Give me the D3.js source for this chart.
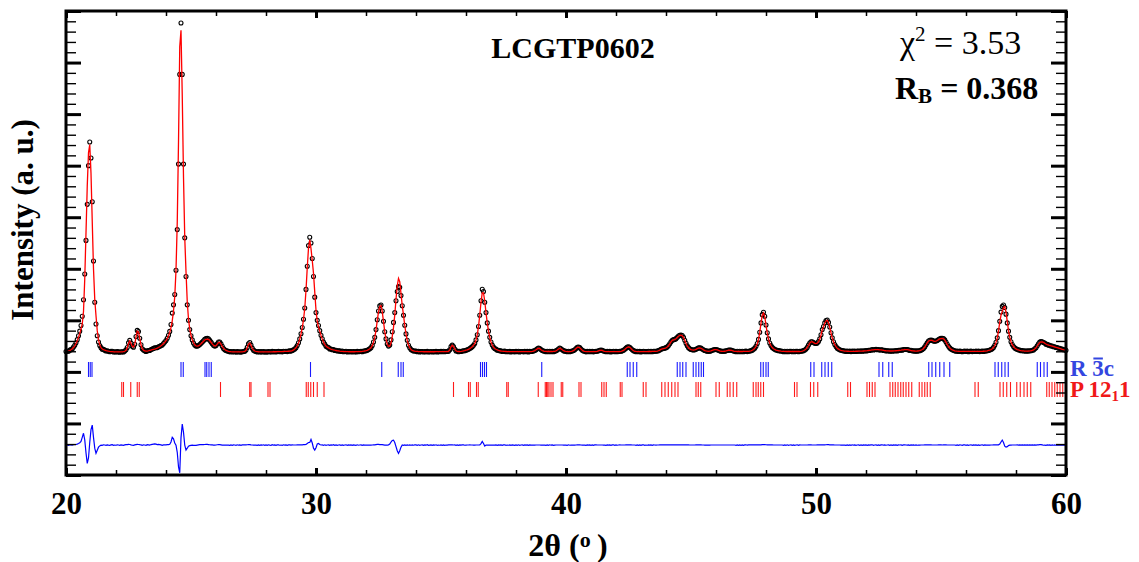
<!DOCTYPE html>
<html>
<head>
<meta charset="utf-8">
<script src="https://cdn.jsdelivr.net/npm/d3@7.9.0/dist/d3.min.js"></script>
<style>
  html, body { margin: 0; padding: 0; background: #fff; }
  svg text { font-family: "Liberation Serif", "Times New Roman", serif; }
</style>
</head>
<body>
<svg id="chart" width="1139" height="562"></svg>
<script>
// 2theta grid of the scan: start and step (degrees)
const tthStart = 20;
const tthStep = 0.05;

// observed counts, one row per degree (20.00 ... 60.00)
const yObs = [
  395, 400, 400, 422, 431, 446, 482, 517, 565, 625, 700, 790, 900, 1080, 1400, 1900, 2550, 3250, 4000, 4459,
  4150, 3300, 2150, 1350, 930, 700, 580, 510, 470, 440, 436, 422, 406, 411, 401, 393, 397, 399, 386, 391,
  385, 393, 389, 381, 392, 389, 387, 403, 428, 473, 565, 612, 560, 495, 478, 535, 685, 805, 782, 653,
  525, 447, 426, 408, 397, 411, 413, 416, 434, 445, 456, 468, 469, 471, 486, 497, 510, 521, 552, 580,
  610, 653, 710, 785, 920, 1140, 1300, 1500, 1970, 2760, 4030, 5770, 6767, 5770, 4030, 2600, 1850, 1300, 1000, 820,
  700, 620, 560, 520, 500, 500, 510, 530, 555, 580, 605, 630, 645, 650, 640, 615, 580, 545, 515, 500,
  510, 545, 580, 580, 545, 495, 455, 430, 415, 405, 398, 389, 396, 387, 394, 390, 384, 394, 386, 391,
  384, 392, 396, 400, 425, 475, 545, 570, 520, 460, 422, 405, 396, 387, 396, 387, 393, 387, 395, 384,
  392, 384, 395, 390, 386, 397, 389, 395, 385, 395, 397, 390, 395, 389, 401, 395, 401, 394, 403, 407,
  403, 417, 428, 445, 470, 510, 565, 640, 740, 860, 1020, 1240, 1600, 2050, 2450, 2611, 2500, 2200, 1850, 1450,
  1150, 1000, 900, 800, 710, 644, 577, 541, 496, 482, 470, 446, 445, 431, 433, 417, 419, 405, 408, 407,
  396, 402, 391, 396, 399, 387, 395, 389, 395, 385, 396, 392, 388, 398, 390, 396, 400, 393, 404, 405,
  412, 420, 432, 448, 470, 510, 580, 670, 820, 1010, 1180, 1280, 1297, 1180, 980, 780, 640, 540, 500, 520,
  620, 780, 960, 1150, 1380, 1560, 1653, 1640, 1480, 1284, 1097, 905, 737, 614, 517, 468, 432, 421, 405, 405,
  403, 393, 400, 388, 394, 396, 385, 394, 389, 398, 387, 392, 396, 386, 394, 389, 398, 388, 394, 390,
  397, 390, 399, 390, 396, 395, 402, 430, 490, 520, 490, 443, 406, 403, 392, 399, 395, 404, 409, 409,
  420, 430, 440, 455, 470, 490, 515, 552, 620, 720, 880, 1100, 1380, 1602, 1560, 1350, 1150, 950, 790, 670,
  580, 520, 480, 455, 441, 421, 421, 408, 409, 396, 401, 402, 391, 396, 391, 398, 387, 396, 394, 389,
  397, 390, 399, 388, 395, 396, 389, 398, 391, 397, 388, 397, 395, 398, 405, 415, 430, 448, 460, 452,
  432, 415, 405, 400, 392, 400, 392, 401, 393, 398, 392, 400, 410, 425, 445, 460, 450, 430, 412, 402,
  398, 391, 400, 391, 400, 405, 415, 430, 455, 478, 483, 470, 445, 420, 405, 398, 389, 397, 391, 398,
  390, 398, 389, 396, 400, 400, 410, 420, 425, 418, 405, 398, 390, 398, 391, 397, 388, 396, 399, 390,
  397, 391, 396, 399, 400, 408, 420, 438, 460, 480, 489, 478, 455, 430, 412, 402, 392, 399, 390, 397,
  388, 396, 399, 390, 396, 391, 400, 393, 399, 391, 400, 400, 400, 405, 412, 425, 440, 450, 455, 460,
  470, 485, 510, 545, 585, 615, 625, 630, 645, 670, 695, 712, 716, 705, 670, 615, 555, 505, 470, 448,
  435, 428, 425, 428, 440, 455, 465, 468, 460, 445, 428, 415, 408, 402, 400, 402, 408, 418, 428, 432,
  433, 428, 418, 408, 402, 400, 400, 402, 408, 415, 422, 425, 422, 414, 406, 400, 392, 400, 392, 399,
  392, 400, 392, 399, 402, 394, 400, 405, 412, 422, 438, 460, 495, 550, 630, 770, 950, 1110, 1156, 1080,
  910, 760, 640, 560, 510, 475, 452, 437, 426, 418, 412, 408, 404, 401, 392, 400, 392, 401, 391, 397,
  399, 392, 400, 391, 397, 401, 390, 398, 400, 405, 412, 425, 445, 475, 520, 560, 585, 586, 570, 555,
  550, 560, 590, 640, 720, 820, 880, 950, 995, 1007, 960, 870, 760, 660, 585, 530, 492, 460, 442, 430,
  420, 413, 408, 404, 397, 405, 396, 403, 394, 405, 397, 402, 396, 402, 406, 399, 407, 399, 408, 404,
  412, 408, 420, 417, 426, 432, 424, 432, 436, 428, 434, 423, 428, 427, 415, 417, 407, 410, 411, 401,
  408, 401, 411, 406, 414, 407, 418, 420, 426, 422, 433, 435, 435, 432, 429, 416, 419, 408, 410, 402,
  407, 402, 409, 410, 422, 435, 455, 485, 524, 566, 600, 615, 619, 612, 600, 595, 598, 610, 628, 642,
  650, 652, 645, 620, 580, 535, 495, 465, 443, 428, 418, 411, 400, 406, 396, 402, 400, 393, 401, 404,
  395, 402, 393, 400, 404, 394, 401, 396, 403, 395, 403, 394, 401, 405, 397, 405, 405, 410, 416, 424,
  435, 450, 475, 515, 575, 660, 800, 980, 1160, 1270, 1297, 1250, 1120, 950, 790, 670, 585, 530, 492, 465,
  447, 437, 425, 423, 412, 414, 404, 409, 401, 408, 403, 411, 409, 420, 426, 447, 468, 507, 545, 578,
  588, 586, 570, 558, 537, 533, 519, 518, 503, 502, 489, 488, 474, 473, 459, 457, 444, 442, 429, 427, 420
];

// calculated profile on the same grid
const yCalc = [
  392, 396, 404, 414, 428, 448, 472, 505, 550, 605, 670, 745, 830, 930, 1170, 1800, 2700, 3605, 4250, 4409,
  3850, 2912, 2000, 1410, 1090, 800, 620, 525, 470, 445, 430, 420, 412, 406, 401, 397, 394, 392, 390, 389,
  388, 388, 387, 387, 388, 389, 392, 400, 418, 465, 550, 600, 555, 495, 482, 530, 675, 790, 770, 645,
  520, 450, 420, 406, 401, 403, 410, 418, 424, 430, 436, 443, 451, 461, 474, 489, 506, 526, 549, 575,
  605, 645, 700, 770, 860, 990, 1180, 1460, 1970, 2900, 4450, 6307, 6627, 5363, 3780, 2600, 1947, 1360, 1020, 830,
  705, 622, 565, 525, 505, 500, 506, 522, 545, 570, 595, 618, 632, 637, 630, 608, 575, 542, 515, 502,
  508, 538, 570, 572, 540, 495, 456, 432, 416, 406, 399, 395, 392, 390, 389, 388, 388, 388, 388, 388,
  388, 389, 391, 397, 420, 468, 535, 560, 515, 458, 422, 405, 397, 393, 391, 390, 389, 389, 389, 389,
  389, 389, 389, 390, 390, 390, 391, 391, 391, 392, 392, 393, 393, 394, 395, 396, 397, 398, 400, 402,
  405, 414, 426, 443, 468, 507, 562, 636, 735, 855, 1012, 1230, 1585, 2020, 2400, 2560, 2390, 2160, 1910, 1547,
  1200, 980, 870, 790, 708, 640, 580, 535, 500, 480, 465, 452, 442, 433, 426, 420, 415, 410, 406, 402,
  399, 397, 395, 394, 393, 392, 392, 391, 391, 391, 391, 391, 392, 392, 393, 394, 395, 398, 401, 405,
  411, 419, 431, 447, 469, 508, 575, 665, 810, 995, 1165, 1270, 1285, 1170, 975, 780, 640, 540, 495, 500,
  560, 690, 863, 1100, 1410, 1670, 1814, 1750, 1520, 1280, 1100, 900, 740, 610, 520, 465, 435, 418, 408, 402,
  398, 396, 394, 393, 392, 392, 391, 391, 391, 391, 391, 391, 391, 391, 391, 391, 392, 392, 392, 393,
  393, 393, 394, 394, 394, 395, 398, 426, 485, 515, 488, 440, 410, 398, 395, 395, 397, 401, 406, 412,
  420, 428, 438, 452, 468, 488, 515, 552, 618, 718, 878, 1098, 1350, 1530, 1530, 1370, 1150, 950, 790, 670,
  580, 520, 480, 455, 438, 425, 416, 410, 405, 401, 398, 396, 395, 394, 394, 393, 393, 393, 393, 393,
  393, 393, 393, 393, 393, 393, 393, 393, 393, 393, 394, 394, 394, 397, 404, 414, 428, 446, 458, 450,
  431, 414, 404, 399, 396, 395, 395, 395, 395, 395, 397, 399, 408, 423, 443, 458, 448, 428, 411, 401,
  397, 395, 394, 394, 398, 404, 414, 429, 453, 475, 480, 467, 443, 419, 404, 397, 394, 393, 393, 393,
  393, 393, 393, 393, 394, 398, 408, 418, 423, 416, 404, 397, 394, 393, 393, 393, 393, 393, 393, 393,
  393, 394, 394, 394, 398, 406, 418, 436, 457, 477, 486, 475, 452, 428, 410, 400, 396, 394, 393, 393,
  393, 393, 393, 394, 394, 394, 395, 395, 395, 396, 397, 398, 399, 403, 410, 422, 437, 447, 452, 457,
  467, 482, 507, 542, 582, 612, 622, 627, 642, 667, 692, 708, 712, 700, 665, 610, 550, 502, 467, 446,
  433, 426, 423, 426, 437, 452, 462, 465, 457, 443, 426, 414, 407, 401, 399, 401, 406, 416, 426, 430,
  431, 426, 416, 406, 400, 398, 398, 400, 406, 413, 420, 423, 420, 412, 404, 398, 396, 395, 395, 395,
  395, 395, 396, 396, 396, 396, 397, 402, 409, 419, 435, 457, 492, 546, 625, 765, 945, 1100, 1145, 1070,
  903, 755, 636, 557, 507, 472, 450, 435, 424, 416, 410, 406, 402, 399, 397, 396, 395, 395, 395, 395,
  395, 395, 395, 395, 395, 395, 395, 395, 398, 403, 410, 423, 443, 473, 517, 557, 582, 584, 568, 553,
  548, 557, 586, 636, 715, 815, 875, 944, 988, 998, 952, 864, 756, 656, 582, 528, 490, 458, 440, 428,
  419, 412, 407, 403, 401, 400, 399, 399, 399, 399, 399, 399, 400, 400, 401, 402, 403, 404, 405, 406,
  408, 411, 415, 419, 423, 426, 428, 430, 431, 431, 430, 428, 425, 421, 417, 413, 410, 408, 406, 405,
  405, 405, 406, 408, 410, 412, 415, 418, 421, 425, 429, 432, 433, 431, 426, 420, 414, 410, 407, 405,
  404, 405, 407, 412, 420, 433, 453, 482, 521, 563, 597, 612, 616, 610, 598, 593, 596, 608, 625, 639,
  647, 650, 642, 617, 577, 533, 493, 463, 441, 426, 416, 409, 404, 401, 399, 398, 398, 398, 398, 398,
  398, 398, 398, 398, 398, 398, 398, 398, 398, 398, 399, 399, 399, 399, 400, 401, 404, 409, 415, 423,
  433, 448, 472, 512, 572, 656, 795, 960, 1100, 1173, 1247, 1270, 1160, 980, 800, 670, 585, 528, 490, 463,
  445, 433, 425, 418, 413, 409, 406, 404, 403, 403, 404, 406, 410, 416, 426, 443, 467, 502, 540, 570,
  580, 583, 573, 557, 541, 530, 521, 513, 506, 499, 492, 485, 477, 470, 462, 454, 447, 439, 432, 426, 420
];

// reflection positions (2theta) for the two phases
const braggR3c = [
  20.90, 20.97, 21.04, 24.60, 24.69, 25.56, 25.63, 25.72, 25.81, 29.78, 32.63,
  33.29, 33.40, 33.49, 36.58, 36.66, 36.74, 36.82, 39.03,
  42.45, 42.56, 42.69, 42.83, 44.45, 44.56, 44.67, 44.80,
  45.09, 45.20, 45.31, 45.41, 45.50, 47.79, 47.89, 48.00, 48.09,
  49.79, 49.92, 50.23, 50.36, 50.49, 50.63, 52.52, 52.67, 52.91, 53.05,
  54.51, 54.64, 54.79, 54.95, 55.12, 55.35, 57.16, 57.29, 57.43, 57.56, 57.69,
  58.85, 58.98, 59.12, 59.25
];
const braggP1211 = [
  22.23, 22.30, 22.59, 22.85, 22.93, 26.18, 27.35, 27.40, 28.08, 28.16,
  29.61, 29.69, 29.79, 29.90, 30.05, 30.32, 35.50, 36.10, 36.17, 36.42, 36.49,
  37.63, 37.69, 38.89, 39.17, 39.22, 39.27, 39.32, 39.40, 39.48, 39.81, 39.87,
  40.52, 40.60, 41.43, 41.52, 41.61, 42.17, 42.24, 43.09, 43.20,
  43.83, 43.96, 44.09, 44.23, 44.36, 44.48, 45.20, 45.29, 45.39, 46.00, 46.13,
  46.45, 46.56, 46.69, 46.83, 47.49, 47.60, 47.69, 47.79, 47.90, 49.14, 49.24,
  49.78, 49.91, 50.07, 51.27, 51.38, 52.04, 52.14, 52.25, 52.36,
  52.96, 53.07, 53.17, 53.28, 53.39, 53.49, 53.60, 53.71, 53.83,
  54.13, 54.24, 54.35, 54.45, 54.57, 56.36, 56.49, 57.36, 57.49, 57.63, 57.78,
  58.03, 58.17, 58.32, 58.45, 58.59, 59.23, 59.33, 59.44, 59.55, 59.65, 59.76, 59.87
];

const xMajorTicks = [20, 30, 40, 50, 60];
const sampleName = "LCGTP0602";
const chiSquared = "3.53";
const braggR = "0.368";

// layout
const svg = d3.select("#chart");
const pL = 66, pR = 1066, pT = 11, pB = 475;
const diffOffset = -1420;   // zero line of the difference curve

const x = d3.scaleLinear().domain([20, 60]).range([pL, pR]);
const y = d3.scaleLinear().domain([-2000, 7000]).range([pB, pT]);

const pts = yObs.map((v, i) => ({
  tth: tthStart + i * tthStep,
  obs: v,
  calc: yCalc[i]
}));

// observed points
svg.append("g")
  .selectAll("circle")
  .data(pts)
  .join("circle")
  .attr("cx", d => x(d.tth))
  .attr("cy", d => y(d.obs))
  .attr("r", 2)
  .attr("fill", "none")
  .attr("stroke", "#000")
  .attr("stroke-width", 1.1);

// calculated line
svg.append("path")
  .datum(pts)
  .attr("fill", "none")
  .attr("stroke", "#ff0000")
  .attr("stroke-width", 1.3)
  .attr("d", d3.line().x(d => x(d.tth)).y(d => y(d.calc)));

// difference curve
svg.append("path")
  .datum(pts)
  .attr("fill", "none")
  .attr("stroke", "#0000ff")
  .attr("stroke-width", 1.2)
  .attr("d", d3.line().x(d => x(d.tth)).y(d => y(d.obs - d.calc + diffOffset)));

// bragg position ticks
function braggRow(list, y1, y2, color) {
  svg.append("g")
    .selectAll("line")
    .data(list)
    .join("line")
    .attr("x1", d => x(d)).attr("x2", d => x(d))
    .attr("y1", y1).attr("y2", y2)
    .attr("stroke", color)
    .attr("stroke-width", 1.1);
}
braggRow(braggR3c, 362, 377, "#1a1aff");
braggRow(braggP1211, 382, 397, "#ff1a1a");

// axes, ticks pointing inwards
function clean(g) { g.select(".domain").remove(); }

const xMinor = d3.range(22, 60, 2).filter(v => v % 10 !== 0);
const yMajor = d3.range(-2000, 7001, 1000);
const yMinor = d3.range(-2000, 7001, 200).filter(v => v % 1000 !== 0);

svg.append("g").attr("transform", `translate(0,${pB})`)
  .call(d3.axisBottom(x).tickValues(xMajorTicks).tickSize(-7).tickPadding(17).tickFormat(d3.format("d")))
  .call(clean)
  .call(g => g.selectAll("line").attr("stroke-width", 3))
  .call(g => g.selectAll("text")
    .attr("font-size", 31).attr("font-weight", "bold").attr("fill", "#000"));

svg.append("g").attr("transform", `translate(0,${pB})`)
  .call(d3.axisBottom(x).tickValues(xMinor).tickSize(-5).tickFormat(""))
  .call(clean)
  .call(g => g.selectAll("line").attr("stroke-width", 1.5));

svg.append("g").attr("transform", `translate(0,${pT})`)
  .call(d3.axisTop(x).tickValues(xMajorTicks).tickSize(-7).tickFormat(""))
  .call(clean)
  .call(g => g.selectAll("line").attr("stroke-width", 3));

svg.append("g").attr("transform", `translate(0,${pT})`)
  .call(d3.axisTop(x).tickValues(xMinor).tickSize(-5).tickFormat(""))
  .call(clean)
  .call(g => g.selectAll("line").attr("stroke-width", 1.5));

[[pL, d3.axisLeft], [pR, d3.axisRight]].forEach(([pos, ax]) => {
  svg.append("g").attr("transform", `translate(${pos},0)`)
    .call(ax(y).tickValues(yMajor).tickSize(-15).tickFormat(""))
    .call(clean)
    .call(g => g.selectAll("line").attr("stroke-width", 3));
  svg.append("g").attr("transform", `translate(${pos},0)`)
    .call(ax(y).tickValues(yMinor).tickSize(-10).tickFormat(""))
    .call(clean)
    .call(g => g.selectAll("line").attr("stroke-width", 1.4));
});

// frame
svg.append("rect")
  .attr("x", pL).attr("y", pT)
  .attr("width", pR - pL).attr("height", pB - pT)
  .attr("fill", "none").attr("stroke", "#000").attr("stroke-width", 3);

// axis titles
const xt = svg.append("text")
  .attr("x", 568).attr("y", 556)
  .attr("text-anchor", "middle")
  .attr("font-size", 32).attr("font-weight", "bold")
  .text("2θ (");
xt.append("tspan").attr("font-size", 22).attr("dy", -9).text("o");
xt.append("tspan").attr("dy", 9).text("\u2009)");

svg.append("text")
  .attr("transform", "translate(33,220) rotate(-90)")
  .attr("text-anchor", "middle")
  .attr("font-size", 31).attr("font-weight", "bold")
  .text("Intensity (a. u.)");

// annotations
svg.append("text")
  .attr("x", 573).attr("y", 58)
  .attr("text-anchor", "middle")
  .attr("font-size", 30).attr("font-weight", "bold")
  .text(sampleName);

const chi = svg.append("text")
  .attr("x", 900).attr("y", 54)
  .attr("font-size", 34)
  .style("font-family", "'Liberation Serif', 'DejaVu Serif', serif")
  .text("χ");
chi.append("tspan").attr("font-size", 21).attr("dy", -13).text("2");
chi.append("tspan").attr("dy", 13).text(" = " + chiSquared);

const rb = svg.append("text")
  .attr("x", 895).attr("y", 99)
  .attr("font-size", 32).attr("font-weight", "bold")
  .text("R");
rb.append("tspan").attr("font-size", 21).attr("dy", 4).text("B");
rb.append("tspan").attr("dy", -4).text(" = " + braggR);

// phase labels
const lblR = svg.append("text")
  .attr("x", 1070).attr("y", 376)
  .attr("font-size", 23).attr("font-weight", "bold")
  .attr("fill", "#3346e0")
  .text("R 3c");
const ext = lblR.node().getExtentOfChar(2);
svg.append("line")
  .attr("x1", ext.x + 1).attr("x2", ext.x + ext.width - 1)
  .attr("y1", 358.5).attr("y2", 358.5)
  .attr("stroke", "#3346e0").attr("stroke-width", 2);

const lblP = svg.append("text")
  .attr("x", 1070).attr("y", 397)
  .attr("font-size", 23).attr("font-weight", "bold")
  .attr("fill", "#f01818")
  .text("P 12");
lblP.append("tspan").attr("font-size", 15).attr("dy", 4).text("1");
lblP.append("tspan").attr("dy", -4).text("1");
</script>
</body>
</html>
